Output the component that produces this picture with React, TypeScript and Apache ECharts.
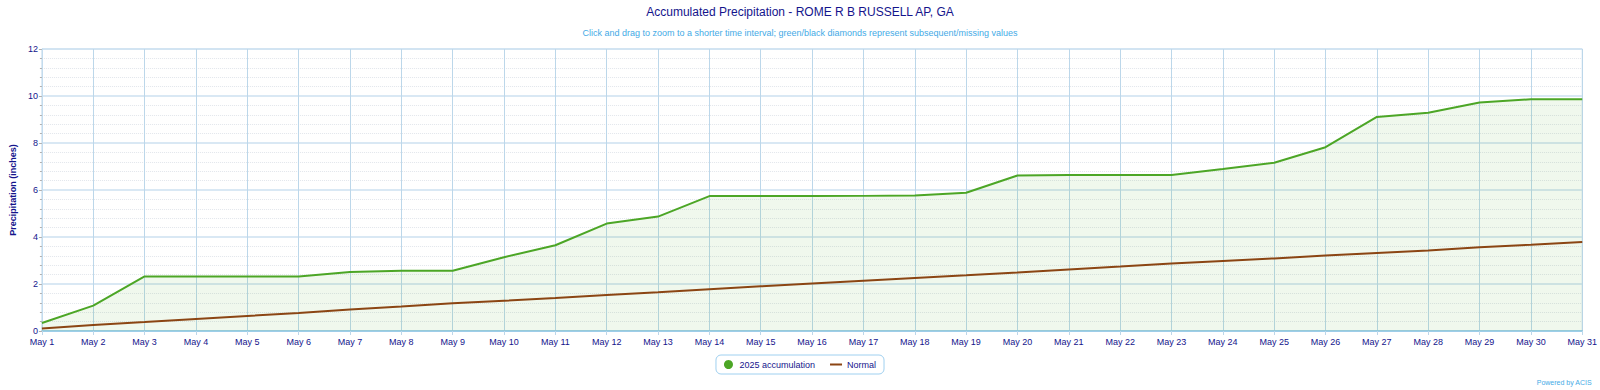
import React, { useEffect, useRef } from "react";
import * as echarts from "echarts";

const TITLE = "Accumulated Precipitation - ROME R B RUSSELL AP, GA";
const SUBTITLE =
  "Click and drag to zoom to a shorter time interval; green/black diamonds represent subsequent/missing values";
const CREDIT = "Powered by ACIS";

const days: string[] = [
  "May 1", "May 2", "May 3", "May 4", "May 5", "May 6", "May 7", "May 8", "May 9", "May 10",
  "May 11", "May 12", "May 13", "May 14", "May 15", "May 16", "May 17", "May 18", "May 19", "May 20",
  "May 21", "May 22", "May 23", "May 24", "May 25", "May 26", "May 27", "May 28", "May 29", "May 30",
  "May 31",
];

const accumulation2025: number[] = [
  0.34, 1.08, 2.32, 2.32, 2.32, 2.32, 2.51, 2.56, 2.56, 3.14,
  3.65, 4.57, 4.87, 5.74, 5.74, 5.74, 5.75, 5.77, 5.88, 6.62,
  6.64, 6.64, 6.64, 6.89, 7.16, 7.82, 9.11, 9.29, 9.72, 9.86,
  9.86,
];

const normal: number[] = [
  0.11, 0.26, 0.38, 0.51, 0.64, 0.77, 0.91, 1.04, 1.18, 1.29,
  1.4, 1.53, 1.65, 1.78, 1.9, 2.02, 2.14, 2.26, 2.37, 2.49,
  2.62, 2.74, 2.87, 2.98, 3.09, 3.21, 3.32, 3.43, 3.56, 3.67,
  3.79,
];

const FONT = "'Liberation Sans', Arial, sans-serif";
const NAVY = "#14148c";
const LINE_ICON =
  "path://M0,0L0.01,0L0.01,0.01Z M0,3.5L12,3.5L12,5.5L0,5.5Z M11.99,9L12,9L12,8.99Z";

export default function App() {
  const ref = useRef<HTMLDivElement>(null);

  useEffect(() => {
    if (!ref.current) return;
    const chart = echarts.init(ref.current, undefined, { renderer: "svg" });
    chart.setOption({
      animation: false,
      backgroundColor: "#ffffff",
      textStyle: { fontFamily: FONT },
      title: [
        {
          text: TITLE,
          left: "center",
          top: 5,
          padding: 0,
          textStyle: { fontFamily: FONT, fontSize: 12, fontWeight: "normal", color: NAVY, lineHeight: 14 },
        },
        {
          text: SUBTITLE,
          left: "center",
          top: 27,
          padding: 0,
          textStyle: { fontFamily: FONT, fontSize: 9, fontWeight: "normal", color: "#44aae6", lineHeight: 11 },
        },
      ],
      legend: {
        left: "center",
        top: 355,
        padding: [5, 8, 5, 8],
        itemGap: 15,
        itemWidth: 12,
        itemHeight: 9,
        borderColor: "#9fd0f0",
        borderWidth: 1,
        borderRadius: 5,
        textStyle: { fontFamily: FONT, fontSize: 9, color: NAVY },
        data: [
          { name: "2025 accumulation", icon: "circle" },
          { name: "Normal", icon: LINE_ICON },
        ],
      },
      graphic: [
        {
          type: "text",
          right: 8,
          top: 379,
          style: { text: CREDIT, fontFamily: FONT, fontSize: 7, fill: "#44aae6" },
        },
      ],
      grid: {
        left: 41,
        right: 7,
        top: 49,
        bottom: 59,
        show: true,
        borderColor: "#c4dcee",
        borderWidth: 1,
        containLabel: false,
      },
      xAxis: {
        type: "category",
        data: days,
        boundaryGap: false,
        axisLine: { show: true, lineStyle: { color: "#8cc6e6", width: 1.5 } },
        axisTick: { show: true, length: 4, interval: 0, lineStyle: { color: "#bcd7ea" } },
        axisLabel: { interval: 0, fontFamily: FONT, fontSize: 9, color: NAVY, margin: 6 },
        splitLine: { show: true, interval: 0, lineStyle: { color: "#bcd7ea", width: 1 } },
      },
      yAxis: {
        type: "value",
        min: 0,
        max: 12,
        interval: 2,
        name: "Precipitation (inches)",
        nameLocation: "middle",
        nameGap: 18,
        nameTextStyle: { fontFamily: FONT, fontSize: 9, fontWeight: "bold", color: NAVY },
        axisLine: { show: true, lineStyle: { color: "#c4dcee" } },
        axisTick: { show: true, length: 3, lineStyle: { color: "#b0b0b0" } },
        minorTick: { show: true, splitNumber: 5, length: 2, lineStyle: { color: "#b0b0b0" } },
        axisLabel: { fontFamily: FONT, fontSize: 9, color: NAVY, margin: 4 },
        splitLine: { show: true, lineStyle: { color: "#cde0f0", width: 1.5 } },
        minorSplitLine: { show: true, lineStyle: { color: "#e2e6ec", type: "dotted", width: 1 } },
      },
      series: [
        {
          name: "2025 accumulation",
          type: "line",
          data: accumulation2025,
          symbol: "none",
          showSymbol: false,
          itemStyle: { color: "#4ca626" },
          lineStyle: { color: "#4ca626", width: 2 },
          areaStyle: { color: "rgba(76,168,38,0.12)" },
          z: 3,
        },
        {
          name: "Normal",
          type: "line",
          data: normal,
          symbol: "none",
          showSymbol: false,
          itemStyle: { color: "#8b4513" },
          lineStyle: { color: "#8b4513", width: 2 },
          z: 4,
        },
      ],
    });
    return () => chart.dispose();
  }, []);

  return (
    <div
      ref={ref}
      style={{ position: "absolute", left: 0, top: 0, width: 1600, height: 390 }}
    />
  );
}
